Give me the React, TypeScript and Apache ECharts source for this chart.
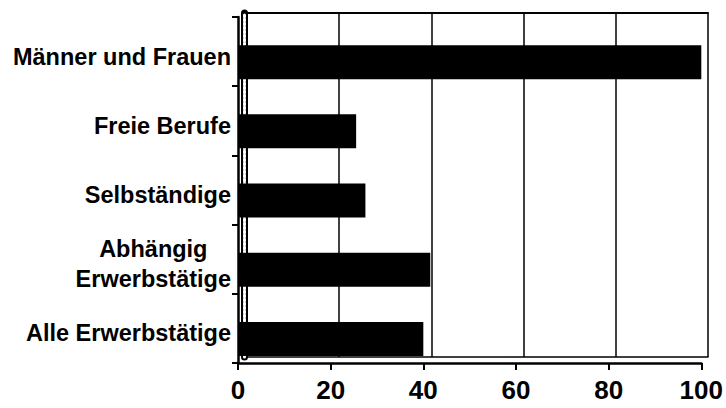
import React, { useEffect, useRef } from "react";
import * as echarts from "echarts";

// categories listed bottom to top
const categories = [
  "Alle Erwerbstätige",
  "Abhängig\nErwerbstätige",
  "Selbständige",
  "Freie Berufe",
  "Männer und Frauen",
];
const values = [40, 41.5, 27.5, 25.5, 100];
const spacer = [0, 0, 0, 0, 0];
const xMin = 0;
const xMax = 100;
const xStep = 20;

const FONT = "'Liberation Sans', Arial, Helvetica, sans-serif";

export default function App() {
  const ref = useRef<HTMLDivElement>(null);
  useEffect(() => {
    if (!ref.current) return;
    const chart = echarts.init(ref.current, undefined, { renderer: "svg" });
    chart.setOption({
      animation: false,
      backgroundColor: "#ffffff",
      grid: [
        { left: 238, right: 22, top: 17, bottom: 45 },
        { left: 247, right: 18, top: 13, bottom: 51 },
      ],
      xAxis: [
        {
          gridIndex: 0,
          type: "value",
          position: "bottom",
          min: xMin,
          max: xMax,
          interval: xStep,
          axisLine: { show: true, lineStyle: { color: "#000", width: 2.5 } },
          axisTick: { show: true, length: 7, lineStyle: { color: "#000", width: 2 } },
          splitLine: { show: false },
          axisLabel: {
            color: "#000",
            fontFamily: FONT,
            fontWeight: "bold",
            fontSize: 26,
            margin: 14,
          },
        },
        {
          gridIndex: 1,
          type: "value",
          position: "top",
          min: xMin,
          max: xMax,
          interval: xStep,
          axisLine: { show: true, onZero: false, lineStyle: { color: "#000", width: 2 } },
          axisTick: { show: false },
          axisLabel: { show: false },
          splitLine: { show: true, lineStyle: { color: "#000", width: 1.5 } },
        },
        {
          gridIndex: 1,
          type: "value",
          position: "bottom",
          min: xMin,
          max: xMax,
          interval: xStep,
          axisLine: { show: true, onZero: false, lineStyle: { color: "#000", width: 1.5 } },
          axisTick: { show: false },
          axisLabel: { show: false },
          splitLine: { show: false },
        },
      ],
      yAxis: [
        {
          gridIndex: 0,
          type: "category",
          position: "left",
          data: categories,
          axisLine: { show: true, onZero: false, lineStyle: { color: "#000", width: 2.5 } },
          axisTick: { show: true, length: 6, lineStyle: { color: "#000", width: 2 } },
          axisLabel: {
            margin: 7,
            formatter: (v: string) =>
              v
                .split("\n")
                .map((l) => `{a|${l}}`)
                .join("\n"),
            rich: {
              a: {
                color: "#000",
                fontFamily: FONT,
                fontWeight: "bold",
                fontSize: 23.5,
                lineHeight: 30,
                align: "center",
              },
            },
            padding: [10, 0, 0, 0],
          },
        },
        {
          gridIndex: 1,
          type: "category",
          position: "left",
          data: categories,
          offset: 3,
          axisLine: { show: true, onZero: false, lineStyle: { color: "#000", width: 7 } },
          axisTick: { show: false },
          axisLabel: { show: false },
        },
        {
          gridIndex: 1,
          type: "category",
          position: "left",
          data: categories,
          offset: 3,
          axisLine: {
            show: true,
            onZero: false,
            lineStyle: { color: "#fff", width: 3, type: [2, 2] },
          },
          axisTick: { show: false },
          axisLabel: { show: false },
        },
      ],
      series: [
        {
          type: "bar",
          xAxisIndex: 0,
          yAxisIndex: 0,
          data: spacer,
          barWidth: 34,
          barGap: "-38%",
          itemStyle: { color: "rgba(0,0,0,0)" },
          silent: true,
        },
        {
          type: "bar",
          xAxisIndex: 0,
          yAxisIndex: 0,
          data: values,
          barWidth: 34,
          barGap: "-38%",
          itemStyle: { color: "#000" },
          z: 5,
        },
      ],
    });
    return () => chart.dispose();
  }, []);
  return <div ref={ref} style={{ width: 726, height: 408, position: "absolute", left: 0, top: 0 }} />;
}
